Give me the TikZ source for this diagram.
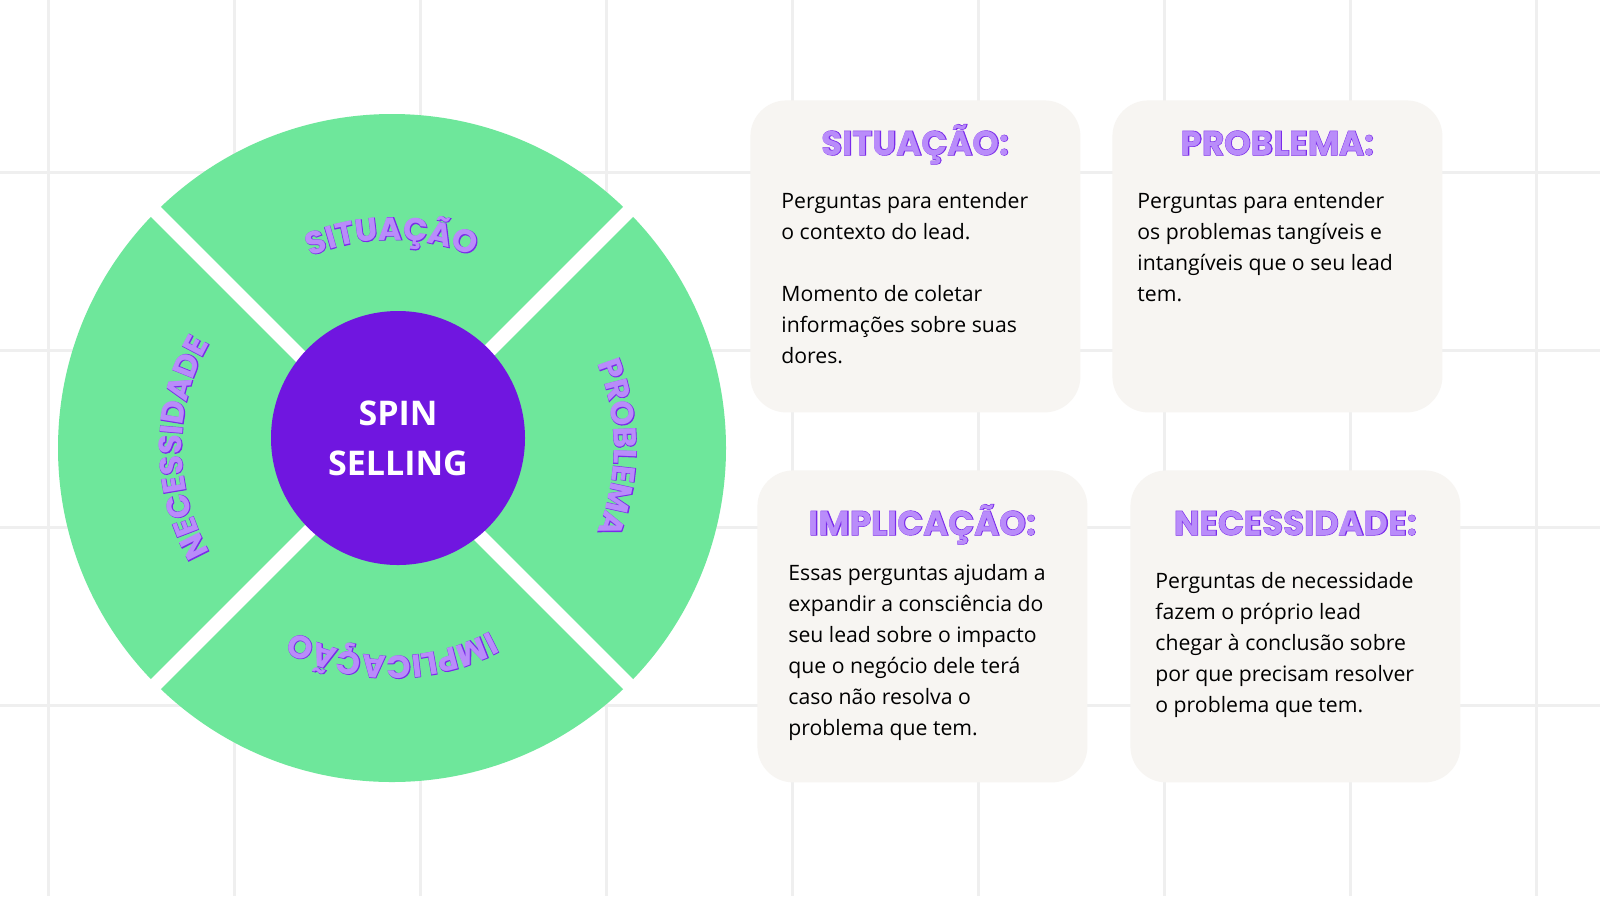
\documentclass[tikz,border=0pt]{standalone}
\usepackage{fontspec}
\setmainfont{Open Sans}
\newfontfamily\ttlfont{Poppins}[FakeBold=0]
\newfontfamily\ttlfontb{Poppins}[FakeBold=3]
\usetikzlibrary{positioning,decorations.text}
\definecolor{gridgray}{HTML}{EFEFEF}
\definecolor{wheelgreen}{HTML}{6EE79B}
\definecolor{spinpurple}{HTML}{7016E0}
\definecolor{darkpurple}{HTML}{7A2BEA}
\definecolor{lightpurple}{HTML}{B98CFA}
\definecolor{boxgray}{HTML}{F7F5F2}
\tikzset{
  infobox/.style={fill=boxgray,rounded corners=18pt,minimum width=165pt,minimum height=156pt,anchor=north west},
  ttl/.style={font=\ttlfont\bfseries\fontsize{17}{20}\selectfont,text=lightpurple,anchor=base},
  ttlb/.style={font=\ttlfontb\bfseries\fontsize{17}{20}\selectfont,text=darkpurple,anchor=base},
  body/.style={font=\fontsize{10.6}{15.5}\selectfont,align=left,anchor=north west,inner sep=0pt},
  arcb/.style={decorate,decoration={text along path,text align=center,
      text={|\ttlfontb\bfseries\fontsize{16}{16}\selectfont\color{darkpurple}|#1}}},
  arcf/.style={decorate,decoration={text along path,text align=center,
      text={|\ttlfont\bfseries\fontsize{16}{16}\selectfont\color{lightpurple}|#1}}}
}
\begin{document}
\begin{tikzpicture}[x=0.5pt,y=-0.5pt]
\useasboundingbox (0,0) rectangle (1600,896);
\fill[white] (0,0) rectangle (1600,896);
% grid
\foreach \gx in {48,234,420,606,792,978,1164,1350,1536}
  \draw[gridgray,line width=1.5pt] (\gx,0)--(\gx,896);
\foreach \gy in {172,350,527,705}
  \draw[gridgray,line width=1.5pt] (0,\gy)--(1600,\gy);
% wheel
\coordinate (c) at (392,448);
\fill[wheelgreen] (c) circle[radius=334];
\draw[white,line width=7pt] (c)++(-45:340)--++(135:680);
\draw[white,line width=7pt] (c)++(45:340)--++(225:680);
\node[circle,fill=spinpurple,minimum size=127pt,inner sep=0pt,text=white,align=center,
  font=\bfseries\fontsize{17}{25}\selectfont] (spin) at (398,438) {SPIN\\SELLING};
% arc labels
\foreach \st/\en/\rr/\lbl in {-118/-62/208/SITUAÇÃO,-30/30/222/PROBLEMA,35/145/208/IMPLICAÇÃO,-212/-148/210/NECESSIDADE}{
  \path[arcb=\lbl] (c)++(\st:\rr) arc[start angle=\st,end angle=\en,radius=\rr];
  \path[arcf=\lbl] (c)++(\st:\rr) arc[start angle=\st,end angle=\en,radius=\rr];
}
% boxes
\node[infobox] (sit) at (750,100) {};
\node[infobox] (pro) at (1112,100) {};
\node[infobox] (imp) at (757,470) {};
\node[infobox] (nec) at (1130,470) {};
\foreach \bx/\tt/\ty in {sit/SITUAÇÃO:/155,pro/PROBLEMA:/155,imp/IMPLICAÇÃO:/535,nec/NECESSIDADE:/535}{
  \node[ttlb] (\bx-tb) at (\bx.north |- 0,\ty) {\tt};
  \node[ttl] (\bx-t) at (\bx-tb.base) {\tt};
}
\node[body] (sit-b) at (781,192) {Perguntas para entender\\o contexto do lead.\\[15.5pt]Momento de coletar\\informações sobre suas\\dores.};
\node[body] (pro-b) at (1137,192) {Perguntas para entender\\os problemas tangíveis e\\intangíveis que o seu lead\\tem.};
\node[body] (imp-b) at (788,564) {Essas perguntas ajudam a\\expandir a consciência do\\seu lead sobre o impacto\\que o negócio dele terá\\caso não resolva o\\problema que tem.};
\node[body] (nec-b) at (1155,572) {Perguntas de necessidade\\fazem o próprio lead\\chegar à conclusão sobre\\por que precisam resolver\\o problema que tem.};
\end{tikzpicture}
\end{document}
